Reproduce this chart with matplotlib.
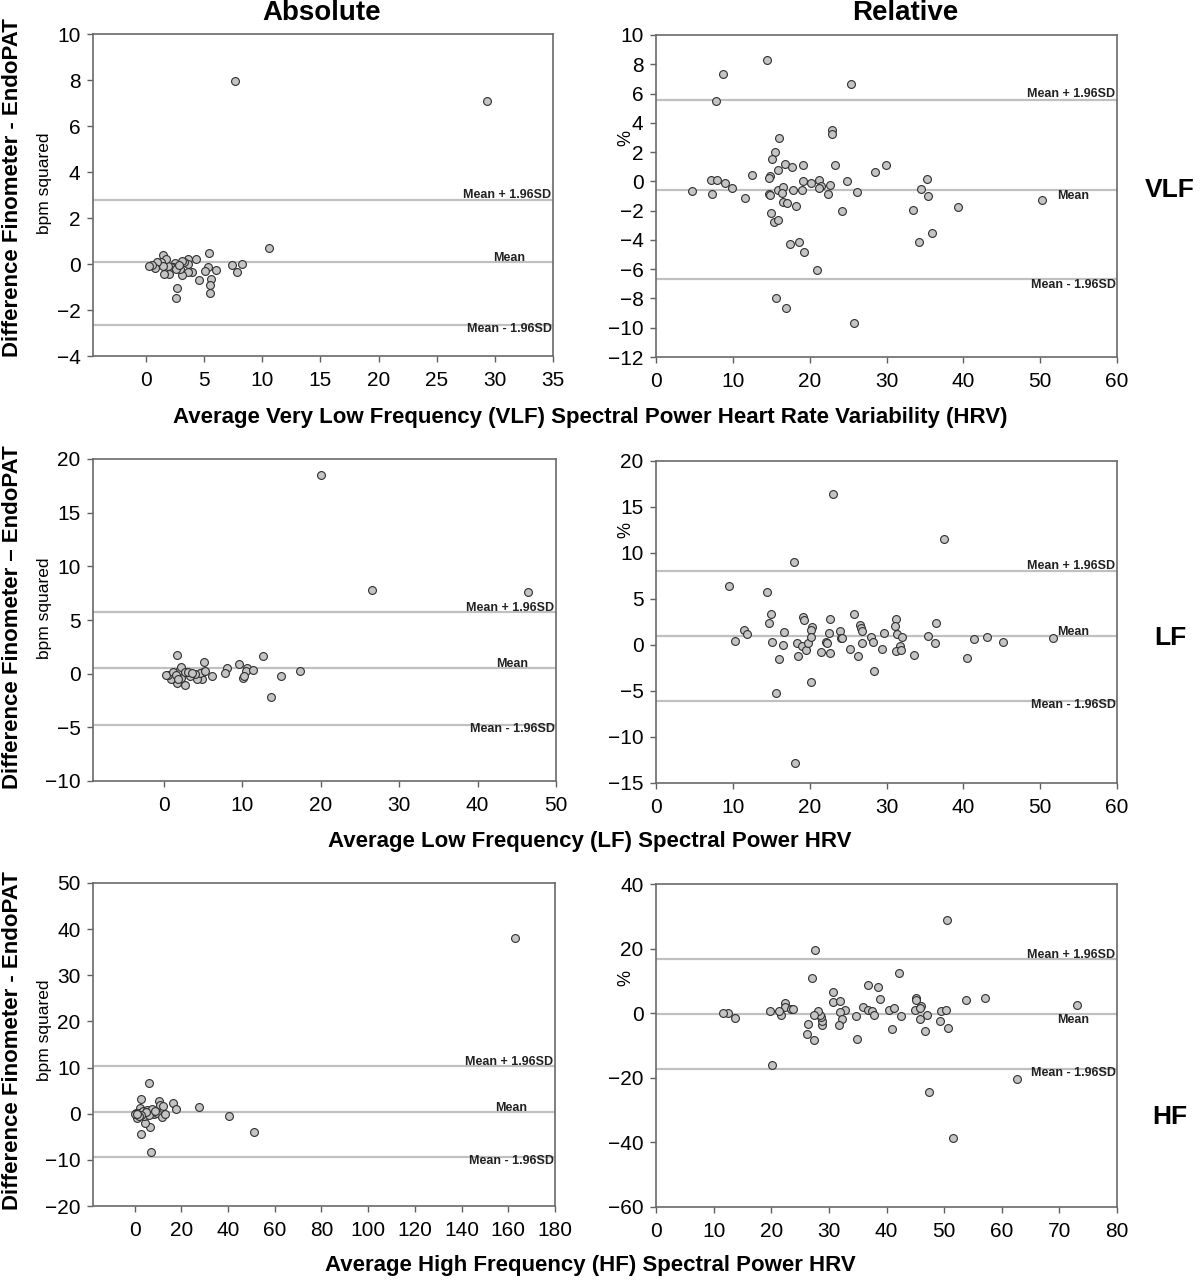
import numpy as np
import matplotlib
matplotlib.use("Agg")
import matplotlib.pyplot as plt
import matplotlib.transforms as mtrans

plt.rcParams['font.family'] = ['Liberation Sans', 'DejaVu Sans']

# VLF absolute (bpm squared)
vlf_abs_x = [7.62, 29.29, 10.56, 5.41, 8.25, 7.36, 7.87, 6.04, 5.32, 5.04, 4.55, 5.58,
             5.55, 5.55, 2.63, 2.58, 4.32, 3.61, 3.66, 3.92, 3.64, 3.06, 2.92, 3.26,
             3.09, 2.69, 2.49, 2.35, 2.18, 1.89, 1.95, 1.55, 1.49, 1.69, 1.29, 1.46,
             0.94, 0.80, 0.52, 0.26, 2.58, 2.86]
vlf_abs_y = [7.96, 7.10, 0.68, 0.48, 0.00, -0.06, -0.36, -0.25, -0.12, -0.29, -0.71, -0.65,
             -0.93, -1.25, -1.06, -1.49, 0.22, 0.23, -0.01, -0.36, -0.36, -0.48, -0.23, 0.07,
             0.12, -0.12, 0.06, -0.12, -0.13, -0.09, -0.43, -0.43, 0.39, 0.20, 0.09, -0.09,
             0.09, -0.19, -0.03, -0.09, -0.23, -0.04]
vlf_abs_lines = [2.80, 0.09, -2.64]

# VLF relative (%)
vlf_rel_x = [14.47, 8.67, 7.84, 25.35, 22.96, 22.88, 16.03, 15.47, 15.08, 15.86, 16.81, 17.76,
             19.15, 23.31, 29.98, 28.55, 12.43, 14.90, 14.73, 35.31, 7.11, 7.93, 9.01, 9.84,
             4.72, 7.32, 11.57, 14.77, 14.82, 15.86, 16.59, 16.46, 16.50, 17.11, 17.89, 18.24,
             18.98, 19.19, 20.19, 21.23, 21.49, 21.27, 22.62, 22.44, 24.83, 26.13, 24.26, 14.95,
             15.38, 15.90, 17.42, 18.63, 19.32, 20.97, 15.68, 16.90, 25.82, 34.49, 35.44, 33.41,
             39.25, 35.92, 34.19, 50.26]
vlf_rel_y = [8.32, 7.36, 5.48, 6.64, 3.50, 3.23, 2.95, 2.00, 1.52, 0.80, 1.18, 1.00,
             1.11, 1.11, 1.11, 0.64, 0.43, 0.36, 0.25, 0.18, 0.07, 0.11, -0.11, -0.43,
             -0.66, -0.86, -1.14, -0.84, -0.95, -0.59, -0.39, -0.80, -1.39, -1.45, -0.59, -1.68,
             -0.61, 0.02, -0.14, 0.11, -0.32, -0.48, -0.23, -0.86, 0.02, -0.70, -2.05, -2.18,
             -2.77, -2.66, -4.30, -4.14, -4.84, -6.07, -8.00, -8.68, -9.66, -0.52, -1.00, -1.95,
             -1.77, -3.50, -4.16, -1.25]
vlf_rel_lines = [5.57, -0.59, -6.70]

# LF absolute (bpm squared)
lf_abs_x = [20.07, 26.57, 46.47, 12.67, 1.66, 5.06, 9.57, 8.04, 7.82, 10.54, 10.42, 11.31,
            10.03, 10.16, 14.97, 17.30, 13.61, 6.08, 4.89, 4.25, 4.93, 4.63, 3.91, 3.36,
            2.72, 1.66, 2.17, 1.87, 2.21, 2.64, 3.02, 0.85, 0.55, 0.26, 1.15, 1.49,
            1.74, 5.23, 3.61]
lf_abs_y = [18.48, 7.76, 7.61, 1.65, 1.74, 1.09, 0.87, 0.56, 0.09, 0.53, 0.25, 0.37,
            -0.40, -0.19, -0.19, 0.22, -2.20, -0.25, -0.53, -0.53, 0.12, 0.03, -0.03, -0.25,
            -1.02, -0.87, -0.37, 0.22, 0.62, 0.16, 0.16, -0.50, -0.16, -0.09, 0.12, -0.12,
            -0.50, 0.22, 0.06]
lf_abs_lines = [5.71, 0.50, -4.78]

# LF relative (%)
lf_rel_x = [23.09, 37.43, 17.98, 9.45, 14.51, 14.99, 14.69, 19.15, 19.24, 22.70, 25.82, 31.20,
            36.48, 31.07, 26.52, 26.65, 26.82, 20.32, 20.19, 23.96, 22.53, 16.68, 11.48, 11.83,
            10.27, 15.16, 16.59, 18.33, 19.06, 19.50, 19.76, 20.15, 22.18, 22.27, 24.09, 24.18,
            21.49, 22.61, 25.26, 26.34, 26.82, 28.03, 28.21, 29.72, 29.46, 31.37, 31.97, 31.72,
            31.28, 31.89, 33.62, 35.40, 36.31, 40.42, 41.33, 43.07, 45.19, 51.73, 15.99, 18.46,
            28.42, 20.23, 15.68, 18.15]
lf_rel_y = [16.41, 11.57, 9.07, 6.40, 5.78, 3.40, 2.39, 3.00, 2.71, 2.82, 3.33, 2.82,
            2.35, 2.02, 2.17, 1.84, 1.52, 1.92, 1.63, 1.55, 1.30, 1.45, 1.66, 1.16,
            0.40, 0.36, -0.04, 0.22, -0.11, -0.51, 0.25, 0.87, 0.29, 0.22, 0.76, 0.72,
            -0.80, -0.87, -0.47, -1.23, 0.25, 0.87, 0.36, 1.30, -0.43, 1.16, 0.83, -0.14,
            -0.65, -0.51, -1.12, 0.98, 0.22, -1.45, 0.69, 0.90, 0.36, 0.72, -1.52, -1.23,
            -2.86, -4.05, -5.24, -12.83]
lf_rel_lines = [7.99, 1.01, -6.04]

# HF absolute (bpm squared)
hf_abs_x = [162.7, 6.13, 2.71, 10.4, 16.5, 10.7, 12.3, 27.5, 17.8, 2.42, 40.6, 51.2,
            6.84, 2.85, 6.70, 4.28, 1.14, 0.57, 1.85, 3.56, 5.27, 7.41, 8.12, 9.55,
            11.69, 12.97, 3.85, 6.27, 4.99, 2.71, 1.71, 0.0, 1.0, 8.84]
hf_abs_y = [38.0, 6.65, 3.18, 2.75, 2.39, 1.95, 1.74, 1.37, 0.94, 1.30, -0.51, -4.05,
            -8.32, -4.34, -2.89, -1.95, -0.87, 0.07, 0.14, 0.51, 0.72, 1.08, -0.07, 0.14,
            -0.72, -0.07, -0.51, -0.36, 0.29, -0.29, -0.58, 0.0, -0.14, 0.65]
hf_abs_lines = [10.27, 0.36, -9.40]

# HF relative (%)
hf_rel_x = [50.55, 27.56, 42.11, 27.04, 36.80, 38.59, 30.79, 38.88, 45.06, 45.12, 53.78, 57.08,
            73.02, 45.99, 30.79, 31.89, 22.42, 22.36, 23.45, 23.81, 32.76, 35.87, 36.80, 37.55,
            37.78, 40.44, 41.31, 42.52, 44.99, 45.87, 46.97, 49.39, 50.26, 49.34, 50.61, 46.68,
            45.75, 40.90, 34.89, 34.78, 31.89, 32.35, 31.83, 28.83, 28.77, 28.71, 28.42, 28.08,
            27.44, 26.46, 26.28, 27.50, 21.61, 21.26, 19.76, 13.63, 12.48, 11.61, 20.16, 62.56,
            47.43, 51.59]
hf_rel_y = [28.76, 19.48, 12.47, 10.93, 8.87, 8.04, 6.60, 4.54, 4.85, 4.12, 4.23, 4.85,
            2.47, 2.27, 3.40, 3.81, 3.20, 2.06, 1.24, 1.34, 0.93, 1.86, 1.03, 0.62,
            -0.52, 1.13, 1.75, -0.72, 1.13, 1.55, -0.52, 0.72, 1.13, -2.37, -4.64, -5.36,
            -1.65, -4.95, -7.84, -0.82, 0.41, -1.75, -3.51, -3.51, -2.37, -1.24, -0.62, 0.82,
            -0.41, -3.20, -6.49, -8.25, -0.41, 0.72, 0.72, -1.34, 0.10, 0.21, -16.08, -20.31,
            -24.43, -38.76]
hf_rel_lines = [16.7, -0.31, -17.3]

line_names = ["Mean + 1.96SD", "Mean", "Mean - 1.96SD"]

fig = plt.figure(figsize=(12, 12.8), dpi=100)
W, H = 1200.0, 1280.0


def box(l, t, r, b):
    return [l / W, 1 - b / H, (r - l) / W, (b - t) / H]


def panel(rect, xs, ys, lines, xlim, xticks, ylim, yticks, offs):
    ax = fig.add_axes(rect)
    ax.scatter(xs, ys, s=32, c='#c4c4c4', edgecolors='#303030', linewidths=0.8, zorder=3)
    trans = mtrans.blended_transform_factory(ax.transAxes, ax.transData)
    for k, (val, name) in enumerate(zip(lines, line_names)):
        ax.axhline(val, color='#c0c0c0', lw=1.6, zorder=2)
        off = mtrans.offset_copy(trans, fig=fig, x=0, y=offs[k], units='points')
        if name == "Mean":
            ax.text(0.905, val, name, transform=off, ha='center', va='center',
                    fontsize=9, fontweight='bold', color='#222222', zorder=4)
        else:
            ax.text(0.997, val, name, transform=off, ha='right', va='center',
                    fontsize=9, fontweight='bold', color='#222222', zorder=4)
    ax.set_xlim(*xlim)
    ax.set_ylim(*ylim)
    ax.set_xticks(xticks)
    ax.set_yticks(yticks)
    ax.tick_params(direction='out', length=4, width=1, color='#606060',
                   labelsize=15, pad=5)
    ax.tick_params(axis='x', pad=7)
    for sp in ax.spines.values():
        sp.set_color('#6a6a6a')
        sp.set_linewidth(1.2)
    return ax


panel(box(93, 34, 553, 356), vlf_abs_x, vlf_abs_y, vlf_abs_lines,
      (-4.55, 35), np.arange(0, 36, 5), (-4, 10), np.arange(-4, 11, 2), [3, 3, -3])
panel(box(656, 35, 1117, 357), vlf_rel_x, vlf_rel_y, vlf_rel_lines,
      (0, 60), np.arange(0, 61, 10), (-12, 10), np.arange(-12, 11, 2), [4, -4, -4])
panel(box(93, 459, 556, 781), lf_abs_x, lf_abs_y, lf_abs_lines,
      (-9.05, 50), np.arange(0, 51, 10), (-10, 20), np.arange(-10, 21, 5), [3, 3, -3])
panel(box(656, 461, 1117, 783), lf_rel_x, lf_rel_y, lf_rel_lines,
      (0, 60), np.arange(0, 61, 10), (-15, 20), np.arange(-15, 21, 5), [4, 3, -3])
panel(box(93, 883, 555, 1206), hf_abs_x, hf_abs_y, hf_abs_lines,
      (-17.8, 180), np.arange(0, 181, 20), (-20, 50), np.arange(-20, 51, 10), [3, 3, -3])
panel(box(656, 884, 1117, 1207), hf_rel_x, hf_rel_y, hf_rel_lines,
      (0, 80), np.arange(0, 81, 10), (-60, 40), np.arange(-60, 41, 20), [3, -4, -3])

# column titles and row labels
fig.text(322 / W, 1 - 13 / H, "Absolute", ha='center', va='center', fontsize=20, fontweight='bold')
fig.text(905 / W, 1 - 13 / H, "Relative", ha='center', va='center', fontsize=20, fontweight='bold')
for lab, yc in [("VLF", 190), ("LF", 638), ("HF", 1117)]:
    fig.text(1170 / W, 1 - yc / H, lab, ha='center', va='center', fontsize=19, fontweight='bold')

# shared x labels
xlabels = ["Average Very Low Frequency (VLF) Spectral Power Heart Rate Variability (HRV)",
           "Average Low Frequency (LF) Spectral Power HRV",
           "Average High Frequency (HF) Spectral Power HRV"]
for lab, yc in zip(xlabels, [418, 842, 1265]):
    fig.text(590 / W, 1 - yc / H, lab, ha='center', va='center', fontsize=16, fontweight='bold')

# y labels
ylabels = ["Difference Finometer - EndoPAT", "Difference Finometer \u2013 EndoPAT",
           "Difference Finometer - EndoPAT"]
for lab, yc, yb in zip(ylabels, [188, 617, 1041], [183, 608, 1030]):
    fig.text(13 / W, 1 - yc / H, lab, rotation=90, ha='center', va='center',
             fontsize=16, fontweight='bold')
    fig.text(44 / W, 1 - yb / H, "bpm squared", rotation=90, ha='center', va='center',
             fontsize=12.5)
for yc in [138, 530, 978]:
    fig.text(626 / W, 1 - yc / H, "%", rotation=90, ha='center', va='center', fontsize=13)

fig.savefig("out.png", dpi=100)
